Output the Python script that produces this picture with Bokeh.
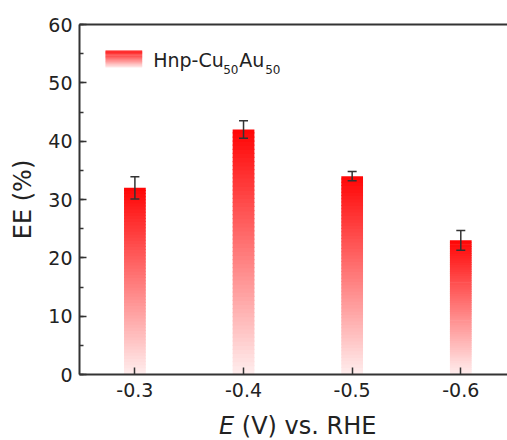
import math
from bokeh.plotting import figure
from bokeh.models import (Range1d, LinearAxis, FixedTicker, SingleIntervalTicker,
                          Whisker, ColumnDataSource, TeeHead)
from bokeh.core.properties import value
from bokeh.embed import file_html
from bokeh.resources import INLINE

# ---- data ----
potentials = ["-0.3", "-0.4", "-0.5", "-0.6"]
ee_values = [32.0, 42.0, 34.0, 23.0]
ee_errors = [1.9, 1.5, 0.8, 1.7]
legend_label_main = "Hnp-Cu"
legend_label_sub1 = "50"
legend_label_mid = "Au"
legend_label_sub2 = "50"
x_title_italic = "E"
x_title_rest = "(V) vs. RHE"
y_title = "EE (%)"

FONT = "DejaVu Sans"
AX = "#333333"
TXT = "#222222"

xs = [i + 1 for i in range(len(potentials))]
Y_MIN, Y_MAX = 0, 60
X_LO, X_HI = 0.49, 4.43          # visible axis span

# ---- layout geometry (pixels) ----
W, H = 507, 440
AXIS_LEFT_PX, AXIS_TOP_PX, AXIS_BOTTOM_PX = 79, 24, 374
ppu_x = (W - AXIS_LEFT_PX) / (X_HI - X_LO)
ppu_y = (AXIS_BOTTOM_PX - AXIS_TOP_PX) / (Y_MAX - Y_MIN)
XS = X_LO - AXIS_LEFT_PX / ppu_x
YS = Y_MIN - (H - AXIS_BOTTOM_PX) / ppu_y
YE = Y_MAX + AXIS_TOP_PX / ppu_y

def dx(px):
    return XS + px / ppu_x

def dy(py):
    return YE - py / ppu_y

# frame covers the whole canvas; axes are pinned in place
p = figure(width=W, height=H, output_backend="svg", toolbar_location=None,
           x_range=Range1d(XS, X_HI), y_range=Range1d(YS, YE),
           min_border_left=0, min_border_right=0, min_border_top=0,
           min_border_bottom=0, background_fill_color="white",
           border_fill_color="white")
p.outline_line_color = None
p.xgrid.visible = False
p.ygrid.visible = False

# ---- gradient bars (stacked thin slices) ----
N = 60
top_rgb = (255, 5, 5)
bot_rgb = (255, 238, 238)

def grad_color(t):
    r = round(bot_rgb[0] + (top_rgb[0] - bot_rgb[0]) * t)
    g = round(bot_rgb[1] + (top_rgb[1] - bot_rgb[1]) * t)
    b = round(bot_rgb[2] + (top_rgb[2] - bot_rgb[2]) * t)
    return "#%02x%02x%02x" % (r, g, b)

bar_w = 0.2
L, R, B, T, C = [], [], [], [], []
for x, v in zip(xs, ee_values):
    for k in range(N):
        L.append(x - bar_w / 2)
        R.append(x + bar_w / 2)
        B.append(v * k / N)
        T.append(v * (k + 1.3) / N if k < N - 1 else v)
        C.append(grad_color((k + 0.5) / N))
p.quad(left=L, right=R, bottom=B, top=T, fill_color=C, line_color=None)

# ---- error bars ----
src = ColumnDataSource(dict(
    x=xs,
    upper=[v + e for v, e in zip(ee_values, ee_errors)],
    lower=[v - e for v, e in zip(ee_values, ee_errors)],
))
wh = Whisker(base="x", upper="upper", lower="lower", source=src,
             line_color=AX, line_width=1.5, level="overlay",
             upper_head=TeeHead(size=9, line_color=AX, line_width=1.5),
             lower_head=TeeHead(size=9, line_color=AX, line_width=1.5))
p.add_layout(wh)

# ---- legend (manual, for subscripts) ----
lg_l, lg_r, lg_t, lg_b = dx(105), dx(141.7), dy(50), dy(67)
M = 16
LL, LR, LB, LT, LC = [], [], [], [], []
for k in range(M):
    LL.append(lg_l); LR.append(lg_r)
    LB.append(lg_b + (lg_t - lg_b) * k / M)
    LT.append(lg_b + (lg_t - lg_b) * (k + 1.3) / M if k < M - 1 else lg_t)
    LC.append(grad_color((k + 0.5) / M))
p.quad(left=LL, right=LR, bottom=LB, top=LT, fill_color=LC, line_color=None)

main_fs, sub_fs = 19, 12
base_px = 66.5                      # baseline of legend text
mid_main = base_px - 0.346 * main_fs
mid_sub = (base_px + 7.0) - 0.346 * sub_fs
tx, ty = dx(152.7), dy(mid_main)
txt_kw = dict(text_font=value(FONT), text_color=TXT, text_baseline="middle",
              text_align="left")
p.text(x=[tx], y=[ty], text=[legend_label_main], text_font_size=f"{main_fs}px", **txt_kw)
p.text(x=[tx], y=[ty], text=[legend_label_sub1], text_font_size=f"{sub_fs}px",
       x_offset=70, y_offset=mid_sub - mid_main, **txt_kw)
p.text(x=[tx], y=[ty], text=[legend_label_mid], text_font_size=f"{main_fs}px",
       x_offset=86, **txt_kw)
p.text(x=[tx], y=[ty], text=[legend_label_sub2], text_font_size=f"{sub_fs}px",
       x_offset=112, y_offset=mid_sub - mid_main, **txt_kw)

# ---- axes ----
xa = p.xaxis[0]
xa.ticker = FixedTicker(ticks=xs)
xa.major_label_overrides = {x: lab for x, lab in zip(xs, potentials)}
xa.fixed_location = Y_MIN
xa.bounds = (X_LO, X_HI)
yax = p.yaxis[0]
yax.ticker = SingleIntervalTicker(interval=10, num_minor_ticks=2)
yax.fixed_location = X_LO
yax.bounds = (Y_MIN, Y_MAX)

for ax in (xa, yax):
    ax.axis_line_color = AX
    ax.axis_line_width = 2
    ax.major_tick_line_color = AX
    ax.major_tick_line_width = 1.5
    ax.major_tick_in = 7
    ax.major_tick_out = 0
    ax.minor_tick_line_color = AX
    ax.minor_tick_line_width = 1.5
    ax.minor_tick_in = 4
    ax.minor_tick_out = 0
    ax.major_label_text_font = FONT
    ax.major_label_text_font_size = "19px"
    ax.major_label_text_color = TXT
xa.minor_tick_line_color = None
xa.major_label_standoff = 8
yax.major_label_standoff = 7

top = LinearAxis(ticker=FixedTicker(ticks=[]), major_label_text_font_size="0px",
                 axis_line_color=AX, axis_line_width=2, bounds=(X_LO, X_HI),
                 fixed_location=Y_MAX,
                 major_tick_line_color=None, minor_tick_line_color=None)
p.add_layout(top, "above")

# ---- axis titles as text ----
title_fs = 24
xt_base_px = 434
xt_mid = xt_base_px - 0.346 * title_fs
split_px, space_px = 233.7, 7.6
p.text(x=[dx(split_px)], y=[dy(xt_mid)], text=[x_title_italic], text_font=value(FONT),
       text_font_size=f"{title_fs}px", text_font_style="italic", text_color=TXT,
       text_align="right", text_baseline="middle")
p.text(x=[dx(split_px)], y=[dy(xt_mid)], text=[x_title_rest], text_font=value(FONT),
       text_font_size=f"{title_fs}px", text_color=TXT, x_offset=space_px,
       text_align="left", text_baseline="middle")

p.text(x=[dx(22.5)], y=[dy((AXIS_TOP_PX + AXIS_BOTTOM_PX) / 2)], text=[y_title],
       text_font=value(FONT), text_font_size=f"{title_fs}px", text_color=TXT,
       angle=math.pi / 2, text_align="center", text_baseline="middle")

open("out.html", "w").write(file_html(p, INLINE))
